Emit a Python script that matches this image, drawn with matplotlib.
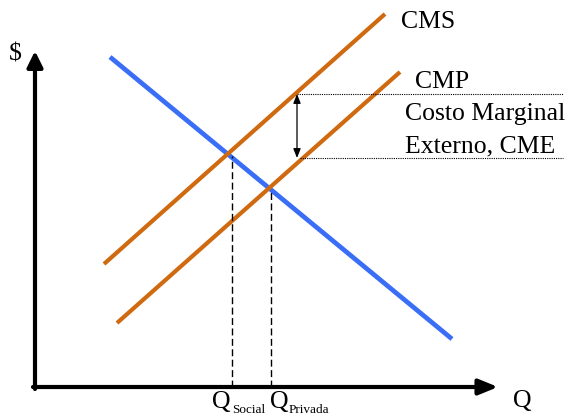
import matplotlib
matplotlib.use("Agg")
import matplotlib.pyplot as plt

# Data (chart units: x = quantity, y = price, origin at bottom-left of the canvas)
q_demand = [110, 452]
p_demand = [363, 81]
q_cms = [104, 385]
p_cms = [156, 406]
q_cmp = [117, 400]
p_cmp = [97, 348]
q_social, p_social = 232, 264
q_privada, p_privada = 271, 231
p_ext_top, p_ext_bottom = 326, 262
q_ext = 297
axis_origin = (35, 33)
q_axis_end = 498
p_axis_end = 369

BLUE = "#3a6ef6"
ORANGE = "#d06a10"
SERIF = ["Liberation Serif", "DejaVu Serif"]

fig = plt.figure(figsize=(5.69, 4.20), dpi=100)
ax = fig.add_axes([0, 0, 1, 1])
ax.set_xlim(0, 569)
ax.set_ylim(0, 420)
ax.axis("off")

# curves
ax.plot(q_demand, p_demand, color=BLUE, lw=3.4, solid_capstyle="butt")
ax.plot(q_cms, p_cms, color=ORANGE, lw=3.0, solid_capstyle="butt")
ax.plot(q_cmp, p_cmp, color=ORANGE, lw=3.0, solid_capstyle="butt")

# dashed quantity markers
ax.plot([q_social, q_social], [axis_origin[1], p_social], color="black", lw=1.0, ls=(0, (5, 2.5)))
ax.plot([q_privada, q_privada], [axis_origin[1], p_privada], color="black", lw=1.0, ls=(0, (5, 2.5)))

# dotted horizontal lines
ax.plot([q_ext, 563], [p_ext_top, p_ext_top], color="black", lw=0.8, ls=(0, (1, 1)))
ax.plot([q_ext + 3, 563], [p_ext_bottom, p_ext_bottom], color="black", lw=0.8, ls=(0, (1, 1)))

# double arrow for external cost
ax.annotate("", xy=(q_ext, p_ext_bottom), xytext=(q_ext, p_ext_top),
            arrowprops=dict(arrowstyle="<|-|>,head_length=0.55,head_width=0.22",
                            lw=0.9, color="black", shrinkA=0, shrinkB=0))

# axes with arrows
ax.annotate("", xy=(q_axis_end, axis_origin[1]), xytext=(axis_origin[0] - 2, axis_origin[1]),
            arrowprops=dict(arrowstyle="-|>,head_length=1.15,head_width=0.47",
                            lw=3.0, color="black", shrinkA=0, shrinkB=0))
ax.annotate("", xy=(axis_origin[0], p_axis_end), xytext=(axis_origin[0], axis_origin[1] - 2),
            arrowprops=dict(arrowstyle="-|>,head_length=0.95,head_width=0.47",
                            lw=3.0, color="black", shrinkA=0, shrinkB=0))

# texts
fs = 18.5
ax.text(401, 420 - 28, "CMS", family=SERIF, fontsize=fs, va="baseline", ha="left")
ax.text(415, 420 - 88, "CMP", family=SERIF, fontsize=fs, va="baseline", ha="left")
ax.text(405, 420 - 120, "Costo Marginal", family=SERIF, fontsize=fs, va="baseline", ha="left")
ax.text(405, 420 - 152, "Externo, CME", family=SERIF, fontsize=fs, va="baseline", ha="left")
ax.text(9, 420 - 60, "$", family=SERIF, fontsize=fs, va="baseline", ha="left")
ax.text(513, 420 - 407, "Q", family=SERIF, fontsize=fs, va="baseline", ha="left")

ax.text(212, 420 - 408, "Q", family=SERIF, fontsize=fs, va="baseline", ha="left")
ax.text(232, 420 - 413, "Social", family=SERIF, fontsize=9.5, va="baseline", ha="left")
ax.text(270, 420 - 408, "Q", family=SERIF, fontsize=fs, va="baseline", ha="left")
ax.text(289, 420 - 413, "Privada", family=SERIF, fontsize=9.5, va="baseline", ha="left")

fig.savefig("out.png", dpi=100)
